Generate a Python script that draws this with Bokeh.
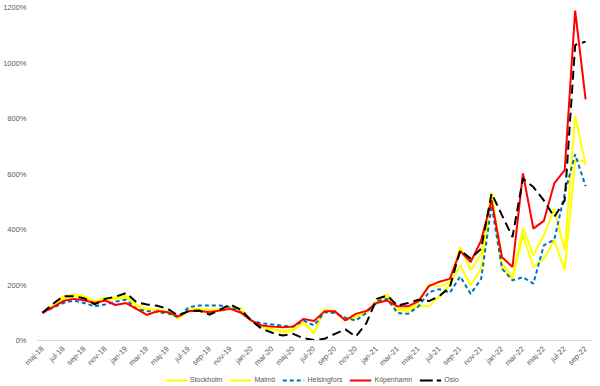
from math import pi
from bokeh.plotting import figure
from bokeh.layouts import column
from bokeh.models import (Range1d, FixedTicker, PrintfTickFormatter, Legend, LegendItem,
                          ColumnDataSource)
from bokeh.embed import file_html
from bokeh.resources import INLINE

months = ["maj-18", "jun-18", "jul-18", "aug-18", "sep-18", "okt-18", "nov-18", "dec-18",
          "jan-19", "feb-19", "mar-19", "apr-19", "maj-19", "jun-19", "jul-19", "aug-19",
          "sep-19", "okt-19", "nov-19", "dec-19", "jan-20", "feb-20", "mar-20", "apr-20",
          "maj-20", "jun-20", "jul-20", "aug-20", "sep-20", "okt-20", "nov-20", "dec-20",
          "jan-21", "feb-21", "mar-21", "apr-21", "maj-21", "jun-21", "jul-21", "aug-21",
          "sep-21", "okt-21", "nov-21", "dec-21", "jan-22", "feb-22", "mar-22", "apr-22",
          "maj-22", "jun-22", "jul-22", "aug-22", "sep-22"]

stockholm = [100, 128, 159, 166, 160, 142, 154, 155, 160, 128, 114, 110, 105, 78, 111, 114,
             110, 114, 120, 116, 72, 50, 42, 30, 36, 66, 26, 114, 105, 72, 84, 100,
             144, 166, 114, 114, 135, 202, 195, 210, 337, 253, 314, 535, 277, 228, 407, 307,
             379, 475, 325, 809, 632]
malmo = [100, 125, 150, 160, 155, 138, 150, 150, 155, 125, 112, 108, 103, 80, 108, 112,
         108, 112, 118, 112, 72, 48, 40, 35, 40, 62, 30, 110, 102, 78, 88, 98,
         140, 160, 110, 105, 125, 123, 160, 200, 271, 198, 260, 520, 260, 222, 379, 265,
         295, 361, 253, 650, 647]
helsingfors = [100, 118, 135, 144, 135, 123, 130, 140, 147, 114, 106, 102, 98, 84, 120, 126,
               126, 126, 120, 102, 72, 62, 58, 53, 50, 72, 54, 102, 99, 82, 72, 99,
               142, 150, 99, 96, 123, 174, 185, 172, 231, 168, 222, 487, 259, 217, 228, 205,
               343, 363, 530, 671, 556]
kopenhamn = [100, 120, 142, 150, 145, 135, 144, 128, 135, 114, 92, 106, 102, 87, 106, 106,
             102, 108, 114, 100, 72, 54, 50, 48, 50, 78, 70, 105, 105, 72, 96, 106,
             135, 144, 123, 123, 142, 196, 212, 222, 322, 283, 361, 505, 300, 265, 602, 403,
             431, 566, 614, 1189, 869]
oslo = [100, 132, 160, 159, 152, 130, 150, 158, 171, 138, 130, 125, 114, 90, 106, 108,
        93, 111, 130, 110, 72, 42, 28, 18, 24, 8, 2, 6, 24, 40, 14, 62,
        150, 162, 126, 135, 147, 142, 160, 192, 325, 295, 331, 530, 451, 373, 584, 553,
        505, 445, 505, 1065, 1077]

series_names = ["Stockholm", "Malmö", "Helsingfors", "Köpenhamn", "Oslo"]
y_ticks = [0, 200, 400, 600, 800, 1000, 1200]

x = list(range(len(months)))
src = ColumnDataSource(dict(x=x, stockholm=stockholm, malmo=malmo, helsingfors=helsingfors,
                            kopenhamn=kopenhamn, oslo=oslo))

FONT = "Liberation Sans"
GRAY = "#595959"
styles = [dict(line_color="#FFFF00", line_width=2),
          dict(line_color="#FFFF00", line_width=2),
          dict(line_color="#0070C0", line_width=2, line_dash="4 3"),
          dict(line_color="#FF0000", line_width=2),
          dict(line_color="black", line_width=2, line_dash="13 4")]
cols = ["stockholm", "malmo", "helsingfors", "kopenhamn", "oslo"]

p = figure(width=600, height=373, output_backend="svg", toolbar_location=None,
           x_range=Range1d(-0.474, 52.66), y_range=Range1d(0, 1200),
           min_border_left=32, min_border_right=8, min_border_top=7, min_border_bottom=30)
p.outline_line_color = None
p.grid.grid_line_color = None

for c, st in zip(cols, styles):
    st_main = dict(st)
    if c == "oslo":
        st_main["line_dash"] = "9 5"
    p.line("x", c, source=src, **st_main)

yax = p.yaxis[0]
yax.ticker = FixedTicker(ticks=y_ticks)
yax.formatter = PrintfTickFormatter(format="%d%%")
yax.axis_line_color = None
yax.major_tick_line_color = None
yax.minor_tick_line_color = None
yax.major_label_text_font = FONT
yax.major_label_text_font_size = "7.5px"
yax.major_label_text_color = GRAY
yax.major_label_standoff = 5

xax = p.xaxis[0]
xax.ticker = FixedTicker(ticks=x[::2])
xax.major_label_overrides = {i: months[i] for i in x[::2]}
xax.major_label_orientation = pi / 4
xax.axis_line_color = "#D9D9D9"
xax.major_tick_line_color = None
xax.minor_tick_line_color = None
xax.major_label_text_font = FONT
xax.major_label_text_font_size = "7.5px"
xax.major_label_text_color = GRAY
xax.major_label_standoff = 1

# legend strip below the chart; its lines use the same data but lie outside its range
lg = figure(width=600, height=13, output_backend="svg", toolbar_location=None,
            x_range=Range1d(0, 1), y_range=Range1d(5000, 5001),
            x_axis_type=None, y_axis_type=None, min_border=0)
lg.outline_line_color = None
lg.grid.grid_line_color = None
items = []
for name, c, st in zip(series_names, cols, styles):
    r = lg.line("x", c, source=src, **st)
    items.append(LegendItem(label=name, renderers=[r]))

legend = Legend(items=items, orientation="horizontal", location="center")
legend.border_line_color = None
legend.background_fill_alpha = 0
legend.padding = 0
legend.margin = 0
legend.spacing = 7
legend.glyph_width = 22
legend.glyph_height = 8
legend.label_height = 8
legend.label_standoff = 3
legend.label_text_font = FONT
legend.label_text_font_size = "7px"
legend.label_text_color = GRAY
lg.add_layout(legend, "center")

layout = column(p, lg, spacing=0)
open("out.html", "w").write(file_html(layout, INLINE))
